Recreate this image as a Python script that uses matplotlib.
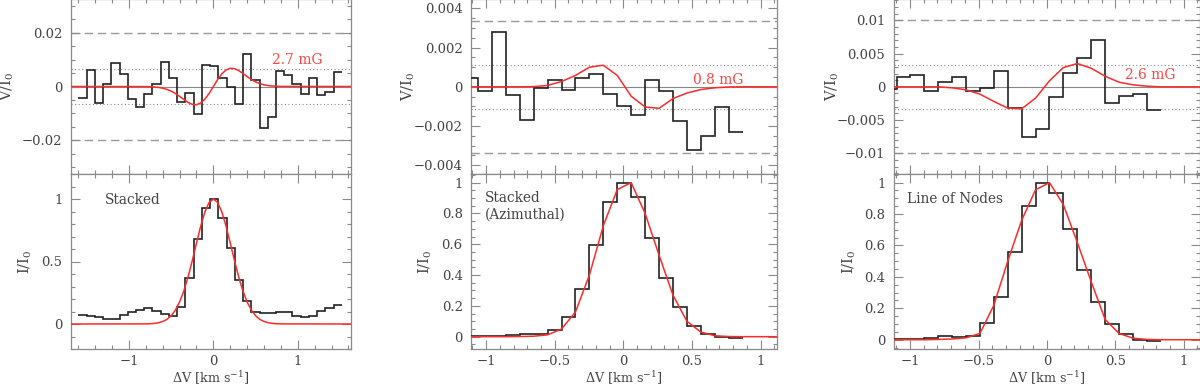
import numpy as np
import matplotlib
matplotlib.use("Agg")
import matplotlib.pyplot as plt
from matplotlib.ticker import MultipleLocator, FuncFormatter

plt.rcParams['font.family'] = ['DejaVu Serif']
plt.rcParams['mathtext.fontset'] = 'custom'
plt.rcParams['mathtext.rm'] = 'DejaVu Serif'
plt.rcParams['mathtext.it'] = 'DejaVu Serif'

# ---------------- data ----------------
# Panel 1 : Stacked
p1_v0, p1_w = -1.55, 0.0975
p1_V = [-0.0044, 0.0060, -0.0060, 0.0010, 0.0088, 0.0048, -0.0048, -0.0075, -0.0026, 0.0009,
        0.0090, 0.0031, -0.0059, -0.0024, -0.0104, 0.0080, 0.0078, 0.0030, -0.0003, -0.0065,
        0.0120, 0.0026, -0.0156, -0.0113, 0.0058, 0.0043, 0.0011, -0.0029, 0.0031, -0.0033,
        -0.0019, 0.0054]
p1_I = [0.072, 0.064, 0.059, 0.040, 0.043, 0.070, 0.094, 0.110, 0.126, 0.104, 0.080, 0.067,
        0.134, 0.366, 0.679, 0.925, 1.0, 0.845, 0.607, 0.353, 0.187, 0.096, 0.091, 0.091,
        0.094, 0.094, 0.067, 0.059, 0.064, 0.102, 0.131, 0.152]
p1_model_x = [-1.7, -0.8, -0.75, -0.7, -0.65, -0.6, -0.55, -0.5, -0.45, -0.4, -0.35, -0.3, -0.25,
              -0.2, -0.15, -0.1, -0.05, 0.0, 0.05, 0.1, 0.15, 0.2, 0.25, 0.3, 0.35, 0.4, 0.45,
              0.5, 0.55, 0.6, 0.65, 0.7, 0.75, 0.8, 1.7]
p1_model_I = [0, 0.001, 0.002, 0.005, 0.010, 0.020, 0.037, 0.066, 0.111, 0.176, 0.264, 0.376,
              0.507, 0.647, 0.783, 0.897, 0.973, 1.0, 0.973, 0.897, 0.783, 0.647, 0.507, 0.376,
              0.264, 0.176, 0.111, 0.066, 0.037, 0.020, 0.010, 0.005, 0.002, 0.001, 0]
p1_model_V = [0, -0.00003, -0.00008, -0.00018, -0.00034, -0.00063, -0.00107, -0.00173, -0.0026,
              -0.00368, -0.00483, -0.0059, -0.00663, -0.00676, -0.00614, -0.00469, -0.00254, 0.0,
              0.00254, 0.00469, 0.00614, 0.00676, 0.00663, 0.0059, 0.00483, 0.00368, 0.0026,
              0.00173, 0.00107, 0.00063, 0.00034, 0.00018, 0.00008, 0.00003, 0]
p1_B = "2.7 mG"
p1_sig = [0.0066, 0.0197]

# Panel 2 : Stacked (Azimuthal)
p2_v0, p2_w = -1.11, 0.1015
p2_V = [0.00044, -0.0002, 0.0028, -0.00044, -0.0017, -0.00005, 0.00036, -0.00015, 0.00044,
        0.00067, -0.00036, -0.00096, -0.00144, 0.00034, -0.0002, -0.00174, -0.00323, -0.00253,
        -0.00104, -0.00232]
p2_I = [0.003, 0.004, 0.004, 0.011, 0.015, 0.019, 0.041, 0.13, 0.31, 0.595, 0.877, 1.0, 0.905,
        0.643, 0.381, 0.19, 0.071, 0.019, 0.0, -0.006]
p2_model_I = [0, 0, 0, 0.001, 0.003, 0.012, 0.05, 0.16, 0.40, 0.72, 0.955, 1.0, 0.80, 0.53, 0.27,
              0.10, 0.03, 0.006, 0.001, 0]
p2_model_V = [0, 0, 0, 0, 0.00001, 0.00007, 0.00027, 0.00058, 0.0010, 0.0011, 0.00058, -0.00048,
              -0.00103, -0.0011, -0.0006, -0.00032, -0.00014, -0.00005, -0.00001, 0]
p2_B = "0.8 mG"
p2_sig = [0.00112, 0.00338]

# Panel 3 : Line of Nodes
p3_v0, p3_w = -1.15, 0.1016
p3_V = [-0.0004, 0.0015, 0.0018, -0.0007, 0.0007, 0.0015, -0.0007, -0.00015, 0.0024, -0.0032,
        -0.0075, -0.0064, -0.0016, 0.0021, 0.0044, 0.0070, -0.0024, -0.0014, -0.0011, -0.0035]
p3_I = [0.005, 0.004, 0.004, 0.013, 0.021, 0.015, 0.021, 0.108, 0.27, 0.556, 0.85, 1.0, 0.932,
        0.707, 0.444, 0.24, 0.10, 0.036, -0.002, -0.011]
p3_model_I = [0, 0, 0, 0.002, 0.005, 0.012, 0.04, 0.22, 0.50, 0.76, 0.955, 1.0, 0.86, 0.62, 0.37,
              0.13, 0.04, 0.01, 0.002, 0]
p3_model_V = [0, 0, 0, 0, -0.00015, -0.00045, -0.0011, -0.0022, -0.0032, -0.0033, -0.0017, 0.0009,
              0.0029, 0.0035, 0.0028, 0.0016, 0.0007, 0.0003, 0.0001, 0]
p3_B = "2.6 mG"
p3_sig = [0.00333, 0.0100]

# ---------------- style ----------------
TXT = '#444444'
SP = '#8a8a8a'
RED = '#ff2a2a'
FS = 9.5
LFS = 10.5

W, H = 1200, 387
fig = plt.figure(figsize=(W / 100, H / 100), dpi=100)


def fmt(v, pos):
    if abs(v) < 1e-12:
        return '0'
    return ('%g' % v).replace('-', '\u2212')


def style(ax, xmaj, xmin, ymaj, ymin, xlabels):
    for s in ax.spines.values():
        s.set_color(SP)
        s.set_linewidth(0.9)
    ax.xaxis.set_major_locator(MultipleLocator(xmaj))
    ax.xaxis.set_minor_locator(MultipleLocator(xmin))
    ax.yaxis.set_major_locator(MultipleLocator(ymaj))
    ax.yaxis.set_minor_locator(MultipleLocator(ymin))
    ax.yaxis.set_major_formatter(FuncFormatter(fmt))
    ax.xaxis.set_major_formatter(FuncFormatter(fmt))
    ax.tick_params(which='both', direction='in', top=True, right=True, color=SP,
                   width=0.8, labelcolor=TXT, labelsize=FS)
    ax.tick_params(which='major', length=6.3)
    ax.tick_params(axis='y', which='major', pad=6)
    ax.tick_params(axis='x', which='major', pad=4.5)
    ax.tick_params(which='minor', length=3.1)
    if not xlabels:
        ax.tick_params(axis='x', labelbottom=False)


def add_axes(l, r, top, bot):
    return fig.add_axes([l / W, (H - bot) / H, (r - l) / W, (bot - top) / H])


def edges(v0, w, n):
    c = v0 + w * np.arange(n)
    return np.concatenate([c - w / 2, [c[-1] + w / 2]])


panels = [
    dict(l=70.7, r=351.0, v0=p1_v0, w=p1_w, V=p1_V, I=p1_I, mx=p1_model_x, mI=p1_model_I,
         mV=p1_model_V, B=p1_B, sig=p1_sig, xlim=(-1.69, 1.63), ylV=(-0.0325, 0.0325),
         ylI=(-0.2, 1.2), xmaj=1, xmin=0.2, Vmaj=0.02, Vmin=0.005, Imaj=0.5, Imin=0.1,
         Bpos=(1.0, 0.0100), lab=[("Stacked", -1.28, 0.99)], vlx=-0.195, ilx=-0.13),
    dict(l=471.0, r=777.0, v0=p2_v0, w=p2_w, V=p2_V, I=p2_I, mx=None, mI=p2_model_I,
         mV=p2_model_V, B=p2_B, sig=p2_sig, xlim=(-1.11, 1.12), ylV=(-0.00445, 0.00448),
         ylI=(-0.08, 1.056), xmaj=0.5, xmin=0.1, Vmaj=0.002, Vmin=0.0005, Imaj=0.2, Imin=0.05,
         Bpos=(0.69, 0.00037), lab=[("Stacked", -1.007, 0.90), ("(Azimuthal)", -1.007, 0.795)],
         vlx=-0.176, ilx=-0.12),
    dict(l=893.7, r=1199.5, v0=p3_v0, w=p3_w, V=p3_V, I=p3_I, mx=None, mI=p3_model_I,
         mV=p3_model_V, B=p3_B, sig=p3_sig, xlim=(-1.12, 1.115), ylV=(-0.0131, 0.0132),
         ylI=(-0.059, 1.055), xmaj=0.5, xmin=0.1, Vmaj=0.005, Vmin=0.001, Imaj=0.2, Imin=0.05,
         Bpos=(0.756, 0.00179), lab=[("Line of Nodes", -1.02, 0.896)], vlx=-0.173, ilx=-0.118),
]

for p in panels:
    e = edges(p['v0'], p['w'], len(p['V']))
    if p['mx'] is None:
        mx = np.concatenate([[-1.5], e[1:], [1.5]])
        mI = [0] + list(p['mI']) + [0]
        mV = [0] + list(p['mV']) + [0]
    else:
        mx, mI, mV = p['mx'], p['mI'], p['mV']

    axV = add_axes(p['l'], p['r'], -1.0, 174.0)
    axI = add_axes(p['l'], p['r'], 174.0, 349.0)

    # Stokes V
    axV.axhline(0, color='#888888', lw=0.8, zorder=1)
    s1, s3 = p['sig']
    for s in (s1, -s1):
        axV.axhline(s, color='#8c8c8c', lw=0.8, ls=(0, (1, 2.2)), zorder=1)
    for s in (s3, -s3):
        axV.axhline(s, color='#9a9a9a', lw=1.0, ls=(0, (6, 3.5)), zorder=1)
    axV.stairs(p['V'], e, baseline=None, color='#222222', lw=1.2, zorder=3)
    axV.plot(mx, mV, color=RED, lw=1.1, zorder=4)
    axV.text(p['Bpos'][0], p['Bpos'][1], p['B'], color='#ff4444', fontsize=FS + 0.5,
             ha='center', va='center')
    axV.set_xlim(*p['xlim'])
    axV.set_ylim(*p['ylV'])
    style(axV, p['xmaj'], p['xmin'], p['Vmaj'], p['Vmin'], False)
    axV.set_ylabel(r'V/I$_{0}$', fontsize=LFS, color=TXT)
    axV.yaxis.set_label_coords(p['vlx'], 0.5)

    # Stokes I
    axI.stairs(p['I'], e, baseline=None, color='#222222', lw=1.2, zorder=3)
    axI.plot(mx, mI, color=RED, lw=1.1, zorder=4)
    for t, x, y in p['lab']:
        axI.text(x, y, t, color=TXT, fontsize=FS + 0.3, ha='left', va='center')
    axI.set_xlim(*p['xlim'])
    axI.set_ylim(*p['ylI'])
    style(axI, p['xmaj'], p['xmin'], p['Imaj'], p['Imin'], True)
    axI.set_ylabel(r'I/I$_{0}$', fontsize=LFS, color=TXT)
    axI.yaxis.set_label_coords(p['ilx'], 0.5)
    axI.set_xlabel(r'$\Delta$V [km s$^{-1}$]', fontsize=9.2, color=TXT)
    axI.xaxis.set_label_coords(0.5, -0.118)

fig.savefig('out.png', dpi=100)
